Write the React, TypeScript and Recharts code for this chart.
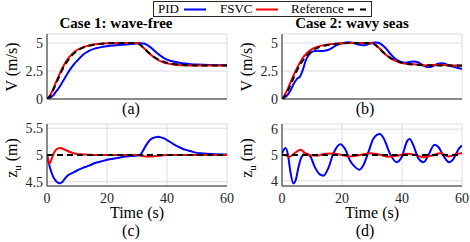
import React from "react";
import { LineChart, Line, XAxis, YAxis, CartesianGrid } from "recharts";

const SERIF = "'Liberation Serif', 'DejaVu Serif', serif";
const BLUE = "#0000ff";
const RED = "#ff0000";
const INK = "#262626";

// reference speed (same in both cases)
const refT = [0, 1, 2, 3, 4, 5, 6, 7, 8, 9, 10, 12, 14, 16, 18, 20, 25, 30, 31, 32, 33, 34, 35, 36, 37, 38, 39, 40, 42, 44, 46, 50, 60];
const refV = [0, 0.25, 0.75, 1.35, 1.95, 2.55, 3.05, 3.45, 3.8, 4.07, 4.3, 4.58, 4.75, 4.86, 4.93, 4.97, 5, 5, 4.86, 4.6, 4.35, 4.1, 3.88, 3.7, 3.55, 3.42, 3.32, 3.24, 3.13, 3.07, 3.03, 3.0, 3.0];

// case 1: wave-free, speed
const fsvc1V = [0, 0.3, 0.85, 1.5, 2.1, 2.7, 3.2, 3.6, 3.92, 4.17, 4.37, 4.62, 4.78, 4.88, 4.94, 4.97, 5, 5, 4.88, 4.62, 4.36, 4.1, 3.86, 3.66, 3.5, 3.36, 3.26, 3.18, 3.08, 3.03, 3.0, 2.98, 2.98];
const pid1T = [0, 1, 2, 3, 4, 5, 6, 7, 8, 9, 10, 12, 14, 16, 18, 20, 22, 25, 28, 30, 31, 32, 33, 34, 35, 36, 37, 38, 39, 40, 41, 42, 44, 46, 48, 50, 55, 60];
const pid1V = [0, 0.1, 0.3, 0.65, 1.0, 1.45, 1.9, 2.35, 2.75, 3.1, 3.4, 3.95, 4.3, 4.5, 4.63, 4.71, 4.77, 4.84, 4.9, 4.95, 4.97, 4.95, 4.88, 4.72, 4.5, 4.25, 4.03, 3.82, 3.65, 3.52, 3.42, 3.35, 3.24, 3.16, 3.11, 3.08, 3.04, 3.02];

// case 2: wavy seas, speed
const pid2T = [0, 1, 2, 3, 4, 5, 6, 7, 8, 9, 10, 11, 12, 13, 14, 15, 16, 17, 18, 19, 20, 21, 22, 23, 24, 25, 26, 27, 28, 29, 30, 31, 32, 33, 34, 35, 36, 37, 38, 39, 40, 41, 42, 43, 44, 45, 46, 47, 48, 49, 50, 51, 52, 53, 54, 55, 56, 57, 58, 59, 60];
const pid2V = [0, 0.15, 0.42, 0.85, 1.4, 1.8, 2.0, 2.65, 3.5, 3.95, 4.2, 4.28, 4.3, 4.28, 4.3, 4.35, 4.45, 4.6, 4.78, 4.9, 4.98, 5.02, 5.06, 5.05, 4.98, 4.9, 4.83, 4.8, 4.82, 4.93, 5.0, 5.05, 5.02, 4.9, 4.68, 4.4, 4.06, 3.78, 3.55, 3.38, 3.28, 3.24, 3.28, 3.33, 3.35, 3.3, 3.18, 3.0, 2.88, 2.84, 2.9, 3.02, 3.15, 3.2, 3.16, 3.06, 2.97, 2.9, 2.82, 2.74, 2.7];
const fsvc2T = [0, 1, 2, 3, 4, 5, 6, 7, 8, 9, 10, 12, 14, 16, 18, 20, 22, 25, 28, 30, 31, 32, 33, 34, 35, 36, 37, 38, 39, 40, 42, 44, 46, 48, 50, 52, 54, 56, 58, 60];
const fsvc2V = [0, 0.4, 0.95, 1.6, 2.2, 2.75, 3.25, 3.7, 4.0, 4.25, 4.45, 4.68, 4.8, 4.88, 4.94, 4.98, 5.0, 5.0, 4.98, 4.98, 4.88, 4.64, 4.37, 4.1, 3.87, 3.67, 3.51, 3.38, 3.28, 3.2, 3.12, 3.1, 3.05, 3.0, 3.03, 3.06, 3.03, 2.98, 3.0, 2.96];

// depth reference
const refZT = [0, 60];
const refZV = [5, 5];

// case 1 depth
const pidZ1T = [0, 0.5, 1, 2, 3, 4, 5, 6, 7, 8, 9, 10, 12, 14, 16, 18, 20, 22, 24, 26, 28, 30, 31, 32, 33, 34, 35, 36, 37, 38, 39, 40, 42, 44, 46, 48, 50, 52, 55, 60];
const pidZ1V = [5.0, 4.88, 4.76, 4.6, 4.51, 4.47, 4.49, 4.56, 4.62, 4.65, 4.68, 4.71, 4.76, 4.8, 4.85, 4.88, 4.91, 4.93, 4.95, 4.97, 4.98, 4.99, 5.0, 5.08, 5.18, 5.26, 5.31, 5.33, 5.34, 5.33, 5.31, 5.28, 5.21, 5.15, 5.1, 5.07, 5.04, 5.03, 5.02, 5.01];
const fsvcZ1T = [0, 0.4, 0.8, 1.5, 2.5, 3.5, 4.5, 5.5, 7, 8.5, 10, 12, 15, 20, 30, 31, 32, 33, 34, 35, 36, 38, 40, 45, 60];
const fsvcZ1V = [5.0, 4.9, 4.84, 4.92, 5.06, 5.12, 5.13, 5.11, 5.07, 5.04, 5.02, 5.01, 5.0, 5.0, 5.0, 4.99, 4.98, 4.97, 4.97, 4.97, 4.98, 4.99, 5.0, 5.0, 5.0];

// case 2 depth
const pidZ2T = [0, 0.6, 1.2, 2, 2.8, 3.8, 4.6, 5.4, 6.5, 7.9, 9.3, 10.9, 12.6, 13.8, 15.4, 17.1, 19.4, 21, 22.6, 24.3, 25.8, 27.1, 28.8, 30.4, 32.6, 34, 36, 38.2, 39.9, 41.8, 42.6, 43.8, 45.5, 47.2, 48.8, 50.8, 52.2, 53.8, 55.7, 57.2, 58.9, 60];
const pidZ2V = [5.05, 5.2, 5.27, 5.0, 4.35, 3.9, 4.04, 4.48, 4.92, 5.05, 4.97, 4.54, 4.25, 4.2, 4.48, 5.05, 5.42, 5.24, 4.8, 4.54, 4.43, 4.6, 5.11, 5.62, 5.81, 5.62, 5.05, 4.72, 4.92, 5.56, 5.62, 5.37, 4.86, 4.72, 4.99, 5.4, 5.3, 4.97, 4.72, 4.86, 5.24, 5.37];
const fsvcZ2T = [0, 1, 2.6, 4.3, 6.2, 7.6, 9.8, 12, 14.3, 17.1, 19.9, 22.6, 26, 29.4, 32.2, 35.5, 38.8, 41.6, 44.4, 47.2, 50, 52.8, 55.6, 58.4, 60];
const fsvcZ2V = [5.0, 5.0, 4.93, 5.08, 5.2, 5.08, 4.98, 4.98, 5.05, 5.06, 5.0, 4.94, 5.0, 5.07, 5.02, 4.93, 4.98, 5.05, 5.0, 4.91, 4.98, 5.07, 4.94, 5.05, 5.07];

const timeTicks = [0, 20, 40, 60];
const speedTicks = [0, 2.5, 5];
const depth1Ticks = [4.5, 5, 5.5];
const depth2Ticks = [4, 5, 6];

const pts = (ts: number[], vs: number[]) => ts.map((t, i) => ({ t, v: vs[i] }));

type Pt = { t: number; v: number };
type PanelProps = {
  left: number;
  top: number;
  margin: { top: number; right: number; bottom: number; left: number };
  xAxisH: number;
  yDomain: [number, number];
  yTicks: number[];
  showTime: boolean;
  pid: Pt[];
  fsvc: Pt[];
  reference: Pt[];
};

function Panel({ left, top, margin, xAxisH, yDomain, yTicks, showTime, pid, fsvc, reference }: PanelProps) {
  const tick = { fontFamily: SERIF, fontSize: 14, fill: INK, style: { fontFamily: SERIF } };
  return (
    <div style={{ position: "absolute", left, top }}>
      <LineChart width={235} height={121} margin={margin} style={{ fontFamily: SERIF }}>
        <CartesianGrid stroke="#dcdcdc" />
        <XAxis
          dataKey="t"
          type="number"
          domain={[0, 60]}
          ticks={timeTicks}
          interval={0}
          height={xAxisH}
          tickLine={false}
          tick={showTime ? tick : false}
          tickSize={4}
          tickMargin={3}
          axisLine={{ stroke: INK }}
          allowDataOverflow
        />
        <XAxis xAxisId="top" orientation="top" type="number" domain={[0, 60]} height={0} tick={false} tickLine={false} axisLine={{ stroke: "#8a8a8a" }} />
        <YAxis
          type="number"
          domain={yDomain}
          ticks={yTicks}
          interval={0}
          width={47}
          tickLine={false}
          tick={tick}
          tickSize={3}
          tickMargin={1}
          axisLine={{ stroke: INK }}
          allowDataOverflow
        />
        <YAxis yAxisId="right" orientation="right" type="number" domain={yDomain} width={0} tick={false} tickLine={false} axisLine={{ stroke: "#8a8a8a" }} />
        <Line data={pid} dataKey="v" type="monotone" stroke={BLUE} strokeWidth={2} dot={false} isAnimationActive={false} />
        <Line data={fsvc} dataKey="v" type="monotone" stroke={RED} strokeWidth={2} dot={false} isAnimationActive={false} />
        <Line data={reference} dataKey="v" type="monotone" stroke="#000" strokeWidth={2} strokeDasharray="6 4" dot={false} isAnimationActive={false} />
      </LineChart>
    </div>
  );
}

const legendItems = [
  { name: "PID", color: BLUE, dash: undefined as string | undefined, tx: 158, x1: 184, x2: 206 },
  { name: "FSVC", color: RED, dash: undefined as string | undefined, tx: 220, x1: 256, x2: 278 },
  { name: "Reference", color: "#000", dash: "6 6", tx: 291, x1: 348, x2: 368 },
];

export default function App() {
  const topMargin = { top: 34, right: 8, bottom: 0, left: 0 };
  const botMargin = { top: 3, right: 8, bottom: 0, left: 0 };
  const txt = { fill: "#000", style: { fontFamily: SERIF } };
  return (
    <div style={{ position: "absolute", left: 0, top: 0, width: 470, height: 242, background: "#fff", overflow: "hidden", fontFamily: SERIF }}>
      <Panel left={0} top={0} margin={topMargin} xAxisH={22} yDomain={[0, 5.8]} yTicks={speedTicks} showTime={false}
        pid={pts(pid1T, pid1V)} fsvc={pts(refT, fsvc1V)} reference={pts(refT, refV)} />
      <Panel left={235} top={0} margin={topMargin} xAxisH={22} yDomain={[0, 5.8]} yTicks={speedTicks} showTime={false}
        pid={pts(pid2T, pid2V)} fsvc={pts(fsvc2T, fsvc2V)} reference={pts(refT, refV)} />
      <Panel left={0} top={121} margin={botMargin} xAxisH={56} yDomain={[4.42, 5.58]} yTicks={depth1Ticks} showTime={true}
        pid={pts(pidZ1T, pidZ1V)} fsvc={pts(fsvcZ1T, fsvcZ1V)} reference={pts(refZT, refZV)} />
      <Panel left={235} top={121} margin={botMargin} xAxisH={56} yDomain={[3.8, 6.2]} yTicks={depth2Ticks} showTime={true}
        pid={pts(pidZ2T, pidZ2V)} fsvc={pts(fsvcZ2T, fsvcZ2V)} reference={pts(refZT, refZV)} />

      <svg width={470} height={242} style={{ position: "absolute", left: 0, top: 0, pointerEvents: "none" }}>
        {/* titles */}
        <text x={116} y={28} textAnchor="middle" fontWeight="bold" fontSize={15} {...txt}>Case 1: wave-free</text>
        <text x={352} y={28} textAnchor="middle" fontWeight="bold" fontSize={15} {...txt}>Case 2: wavy seas</text>

        {/* y labels */}
        <text transform="rotate(-90 17 67)" x={17} y={67} textAnchor="middle" fontSize={16} {...txt}>V (m/s)</text>
        <text transform="rotate(-90 252 67)" x={252} y={67} textAnchor="middle" fontSize={16} {...txt}>V (m/s)</text>
        <text transform="rotate(-90 17 158)" x={17} y={158} textAnchor="middle" fontSize={16} {...txt}>
          z<tspan dy={4} fontSize={11}>u</tspan><tspan dy={-4}> (m)</tspan>
        </text>
        <text transform="rotate(-90 252 158)" x={252} y={158} textAnchor="middle" fontSize={16} {...txt}>
          z<tspan dy={4} fontSize={11}>u</tspan><tspan dy={-4}> (m)</tspan>
        </text>

        {/* x labels */}
        <text x={137} y={218} textAnchor="middle" fontSize={16} {...txt}>Time (s)</text>
        <text x={372} y={218} textAnchor="middle" fontSize={16} {...txt}>Time (s)</text>

        {/* panel letters */}
        <text x={131} y={114} textAnchor="middle" fontSize={16} {...txt}>(a)</text>
        <text x={365} y={114} textAnchor="middle" fontSize={16} {...txt}>(b)</text>
        <text x={131} y={236} textAnchor="middle" fontSize={16} {...txt}>(c)</text>
        <text x={365} y={236} textAnchor="middle" fontSize={16} {...txt}>(d)</text>

        {/* legend */}
        <rect x={153.5} y={1.5} width={218} height={15} fill="#fff" stroke={INK} />
        {legendItems.map((it) => (
          <g key={it.name}>
            <text x={it.tx} y={13} fontSize={13} {...txt}>{it.name}</text>
            <line x1={it.x1} x2={it.x2} y1={9.5} y2={9.5} stroke={it.color} strokeWidth={2} strokeDasharray={it.dash} />
          </g>
        ))}
      </svg>
    </div>
  );
}
